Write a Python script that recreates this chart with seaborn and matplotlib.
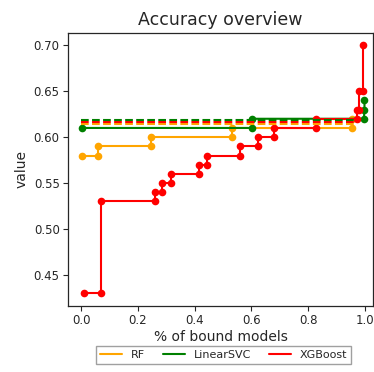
import matplotlib
matplotlib.use("Agg")
import matplotlib.pyplot as plt
import seaborn as sns
import pandas as pd
from matplotlib.lines import Line2D

# ---- data ----
models = ["RF", "LinearSVC", "XGBoost"]
colors = ["orange", "green", "red"]

rf_x = [0.005, 0.06, 0.06, 0.245, 0.245, 0.53, 0.53, 0.955, 0.955]
rf_y = [0.58, 0.58, 0.59, 0.59, 0.60, 0.60, 0.61, 0.61, 0.62]

svc_x = [0.005, 0.603, 0.603, 0.996, 0.998, 0.998]
svc_y = [0.61, 0.61, 0.62, 0.62, 0.63, 0.64]

xgb_x = [0.011, 0.069, 0.069, 0.262, 0.262, 0.285, 0.285, 0.316, 0.316,
         0.415, 0.415, 0.445, 0.445, 0.56, 0.56, 0.624, 0.624, 0.68, 0.68,
         0.826, 0.826, 0.97, 0.97, 0.98, 0.98, 0.994, 0.994]
xgb_y = [0.43, 0.43, 0.53, 0.53, 0.54, 0.54, 0.55, 0.55, 0.56,
         0.56, 0.57, 0.57, 0.58, 0.58, 0.59, 0.59, 0.60, 0.60, 0.61,
         0.61, 0.62, 0.62, 0.63, 0.63, 0.65, 0.65, 0.70]

means = [0.614, 0.619, 0.616]
mean_span = [0.0, 0.97]

series = [(rf_x, rf_y), (svc_x, svc_y), (xgb_x, xgb_y)]

sns.set_style("ticks")
plt.rcParams['font.family'] = ['DejaVu Sans']

fig = plt.figure(figsize=(3.74, 3.72), dpi=100)
ax = fig.add_axes([68/374, 1-306/372, (373-68)/374, (306-33)/372])

for (xs, ys), c in zip(series, colors):
    df = pd.DataFrame({"x": xs, "y": ys})
    sns.lineplot(data=df, x="x", y="y", ax=ax, color=c, marker="o",
                 markersize=5.5, markeredgewidth=0, linewidth=1.5,
                 sort=False, estimator=None)

order = [0, 2, 1]
for i in order:
    ax.plot(mean_span, [means[i], means[i]], linestyle="--", color=colors[i],
            linewidth=1.5)

ax.set_xlim(-0.046, 1.028)
ax.set_ylim(0.4163, 0.7133)
ax.set_xticks([0.0, 0.2, 0.4, 0.6, 0.8, 1.0])
ax.set_yticks([0.45, 0.50, 0.55, 0.60, 0.65, 0.70])
ax.set_yticklabels(["0.45", "0.50", "0.55", "0.60", "0.65", "0.70"])
ax.tick_params(labelsize=8.5, length=3.5, pad=2.5)
for s in ax.spines.values():
    s.set_visible(True)
    s.set_linewidth(0.9)
ax.set_title("Accuracy overview", fontsize=12.5)
ax.set_xlabel("% of bound models", fontsize=10, labelpad=2)
ax.set_ylabel("value", fontsize=10)

handles = [Line2D([0], [0], color=c, linewidth=1.5) for c in colors]
ax.legend(handles, models, loc="upper center", bbox_to_anchor=(0.51, -0.128),
          ncol=3, fontsize=8, frameon=True, fancybox=False, edgecolor="#888888",
          handlelength=2.0, columnspacing=1.6, borderpad=0.35)

fig.savefig("out.png", dpi=100)
